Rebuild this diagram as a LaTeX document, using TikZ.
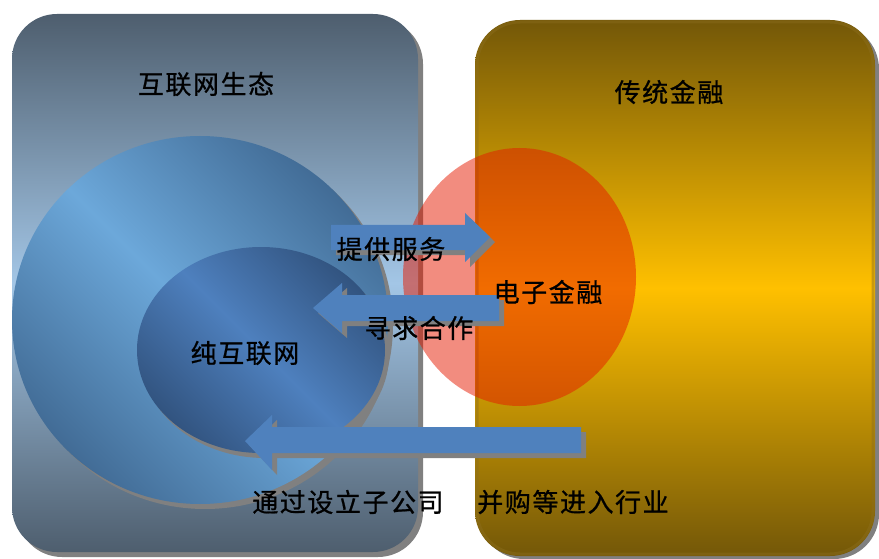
\documentclass[tikz,border=0pt]{standalone}
\usepackage{fontspec}
\newfontfamily\cjk[LetterSpace=6,FakeBold=0.8]{Noto Sans CJK SC}
\usetikzlibrary{shadings}
\definecolor{slatedark}{RGB}{78,94,110}
\definecolor{slatelight}{RGB}{163,198,230}
\definecolor{golddark}{RGB}{115,87,8}
\definecolor{goldmid}{RGB}{255,192,0}
\definecolor{goldrim}{RGB}{140,110,30}
\definecolor{bluedark}{RGB}{66,108,150}
\definecolor{bluelight}{RGB}{108,168,218}
\definecolor{innerdark}{RGB}{50,84,128}
\definecolor{innerlight}{RGB}{78,128,190}
\definecolor{arrowblue}{RGB}{79,129,189}
\definecolor{shadowgray}{RGB}{128,128,128}
\definecolor{ered}{RGB}{229,25,0}
\tikzset{
  shadowfill/.style={fill=shadowgray},
  arrowfill/.style={fill=arrowblue},
  lbl/.style={font=\cjk\fontsize{26}{30}\selectfont, text=black, inner sep=0pt},
}
\begin{document}
\begin{tikzpicture}[x=1pt,y=-1pt]
\useasboundingbox (0,0) rectangle (879,559);
% ---------- left rounded panel ----------
\fill[shadowgray,rounded corners=45pt] (17,19) rectangle (423,557);
\shade[rounded corners=45pt, top color=slatedark, bottom color=slatedark, middle color=slatelight] (12,14) rectangle (418,552);
% ---------- right rounded panel ----------
\fill[shadowgray,rounded corners=45pt] (479,24) rectangle (879,559);
\shade[rounded corners=45pt, top color=golddark, bottom color=golddark, middle color=goldmid] (475,20) rectangle (875,556);
\draw[goldrim, opacity=0.45, line width=3pt, rounded corners=43pt] (477,22) rectangle (873,554);
% ---------- big circle ----------
\fill[shadowgray] (205,325) ellipse [x radius=188, y radius=184];
\shade[top color=bluedark, bottom color=bluedark, middle color=bluelight, shading angle=-45] (200,320) ellipse [x radius=188, y radius=184];
% ---------- inner ellipse ----------
\fill[shadowgray] (265,355) ellipse [x radius=124, y radius=103];
\shade[top color=innerdark, bottom color=innerdark, middle color=innerlight, shading angle=-45] (261,350) ellipse [x radius=124, y radius=103];
% ---------- red ellipse (semi-transparent) ----------
\fill[ered, fill opacity=0.5] (519.5,277) ellipse [x radius=116.5, y radius=129];
% ---------- arrow 1 (right) ----------
\fill[shadowfill] (336,230) -- (470,230) -- (470,218) -- (495,242) -- (470,267) -- (470,255) -- (336,255) -- cycle;
\fill[arrowfill] (331,225) -- (465,225) -- (465,213) -- (490,237) -- (465,262) -- (465,250) -- (331,250) -- cycle;
% ---------- arrow 2 (left) ----------
\fill[shadowfill] (504,300) -- (347,300) -- (347,288) -- (318,313) -- (347,338) -- (347,326) -- (504,326) -- cycle;
\fill[arrowfill] (499,295) -- (342,295) -- (342,283) -- (313,308) -- (342,333) -- (342,321) -- (499,321) -- cycle;
% ---------- arrow 3 (left) ----------
\fill[shadowfill] (586,432) -- (277,432) -- (277,420) -- (250,446) -- (277,475) -- (277,458) -- (586,458) -- cycle;
\fill[arrowfill] (581,427) -- (272,427) -- (272,415) -- (245,441) -- (272,470) -- (272,453) -- (581,453) -- cycle;
% ---------- texts ----------
\node[lbl] (eco) at (206,84) {互联网生态};
\node[lbl] (trad) at (669,92) {传统金融};
\node[lbl] (pure) at (245,353) {纯互联网};
\node[lbl] (efin) at (548,292) {电子金融};
\node[lbl] (serve) at (391,249) {提供服务};
\node[lbl] (coop) at (419,328) {寻求合作};
\node[lbl] (sub) at (348,502) {通过设立子公司};
\node[lbl] (ma) at (573,502) {并购等进入行业};
\end{tikzpicture}
\end{document}
